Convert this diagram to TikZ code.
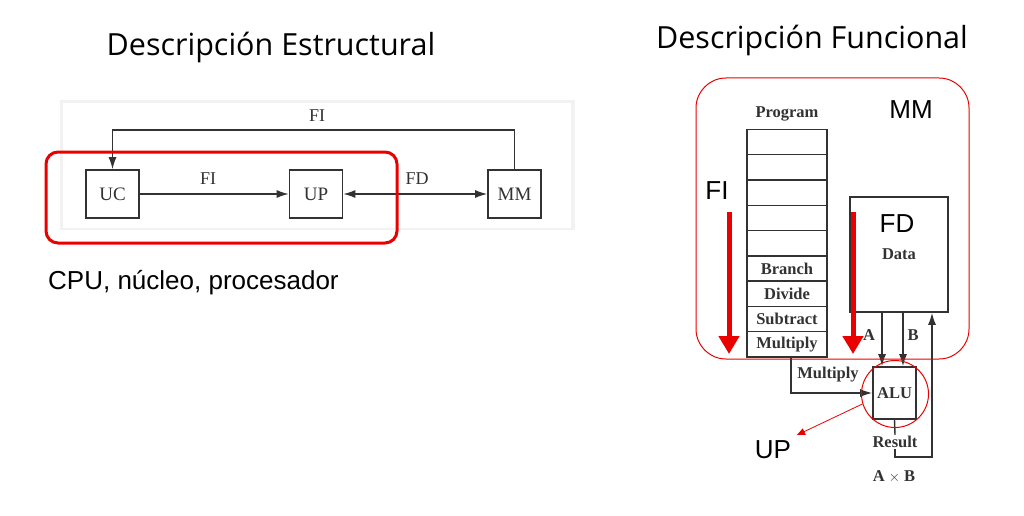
\documentclass[tikz,border=0pt]{standalone}
\usepackage{fontspec}
\setmainfont{Liberation Sans}
\newfontfamily\titlefont{Open Sans}
\newfontfamily\scanfont{Liberation Serif}
\usetikzlibrary{arrows.meta,positioning}
\definecolor{slidered}{RGB}{235,0,0}
\definecolor{inkgray}{RGB}{50,50,50}
\tikzset{>=Latex}
\tikzset{%
    unit/.style={draw=inkgray, line width=1.6pt, minimum width=53pt, minimum height=48pt,
        inner sep=0pt, text=inkgray, font=\scanfont\fontsize{19}{19}\selectfont},
    cell/.style={draw=inkgray, line width=1.4pt, minimum width=80pt, minimum height=25.3pt,
        inner sep=0pt, text=inkgray, font=\scanfont\bfseries\fontsize{16.5}{16.5}\selectfont},
    scantext/.style={text=inkgray, inner sep=1pt, font=\scanfont\fontsize{18}{18}\selectfont},
    smallscan/.style={text=inkgray, inner sep=1pt, font=\scanfont\bfseries\fontsize{16.5}{16.5}\selectfont},
    link/.style={draw=inkgray, line width=1.4pt},
    tip/.style={-{Latex[length=12pt,width=8pt]}},
    title/.style={font=\titlefont\fontsize{30.5}{30.5}\selectfont},
    slidetext/.style={font=\fontsize{26}{26}\selectfont, inner sep=1pt},
    bigarrow/.style={draw=slidered, line width=5pt, -{Triangle[length=18pt,width=20pt]}}
}

\begin{document}
\begin{tikzpicture}[x=1pt,y=-1pt]
\useasboundingbox (0,0) rectangle (1024,516);
% titles
\node[title] (tleft) at (271,47) {Descripción Estructural};
\node[title] (tright) at (812,40) {Descripción Funcional};

% structural picture
\fill[gray!10] (60,100) rectangle (575,230);
\fill[white] (63,103) rectangle (571,228);
\node[unit] (uc) at (112.5,194) {UC};
\node[unit] (up) at (316,194) {UP};
\node[unit] (mm) at (514.5,194) {MM};
\coordinate (fitop) at (0,130);
\draw[link,tip] (uc) -- (up);
\draw[link,{Latex[length=12pt,width=8pt]}-{Latex[length=12pt,width=8pt]}] (up) -- (mm);
\draw[link,tip] (mm.north) -- (mm.north |- fitop) -| (uc.north);
\node[scantext] at (208,179) {FI};
\node[scantext] at (417,179) {FD};
\node[scantext] at (317,116) {FI};
\draw[slidered, line width=3pt, rounded corners=12pt] (46,152) rectangle (397,243);
\node[slidetext, anchor=west] (cpu) at (47,283) {CPU, núcleo, procesador};

% functional picture
\node[smallscan] (prog) at (787,114) {Program};
\foreach \i/\txt in {1/{},2/{},3/{},4/{},5/{},6/Branch,7/Divide,8/Subtract,9/Multiply}
    \node[cell] (r\i) at (787,{129.3+25.3*(\i-0.5)}) {\txt};
\node[draw=inkgray, line width=1.6pt, minimum width=98pt, minimum height=115pt, inner sep=0pt,
    text=inkgray, font=\scanfont\bfseries\fontsize{16.5}{16.5}\selectfont] (data) at (899,254.5) {Data};
\node[unit, minimum width=43pt, minimum height=52pt, font=\scanfont\bfseries\fontsize{16.5}{16.5}\selectfont] (alu) at (894.5,393) {ALU};
\coordinate (ax) at (882,0);
\coordinate (bx) at (903,0);
\coordinate (rx) at (932,0);
\coordinate (mx) at (791,0);
\draw[link,tip] (data.south -| ax) -- (alu.north -| ax);
\draw[link,tip] (data.south -| bx) -- (alu.north -| bx);
\node[smallscan] at (869,335) {A};
\node[smallscan] at (913,335) {B};
\draw[link,tip] (r9.south -| mx) |- (alu.west);
\node[smallscan] at (828,375) {Multiply};
\node[smallscan] (res) at (895,442) {Result};
\node[smallscan] (prod) at (894,477) {A {\Large$\times$} B};
\draw[link] (alu.south) -- (res.north);
\draw[link,tip] (res.south) -- ++(0,8) -| (data.south -| rx);

% slide annotations
\draw[slidered, line width=1pt, rounded corners=30pt] (696,78) rectangle (969,359);
\node[slidetext] (mmlabel) at (911,110) {MM};
\node[slidetext] (filabel) at (717,191) {FI};
\node[slidetext] (fdlabel) at (897,224) {FD};
\coordinate (fia) at (729,212);
\coordinate (fib) at (729,354);
\coordinate (fda) at (853,212);
\coordinate (fdb) at (853,354);
\draw[bigarrow] (fia) -- (fib);
\draw[bigarrow] (fda) -- (fdb);
\node[draw=slidered, line width=1pt, circle, minimum size=67pt] (ring) at (895,394) {};
\node[slidetext] (uplabel) at (773,450) {UP};
\coordinate (uptip) at (797,435);
\draw[slidered, line width=0.8pt, -{Triangle[length=8pt,width=7pt]}] (ring.197) -- (uptip);
\end{tikzpicture}
\end{document}
